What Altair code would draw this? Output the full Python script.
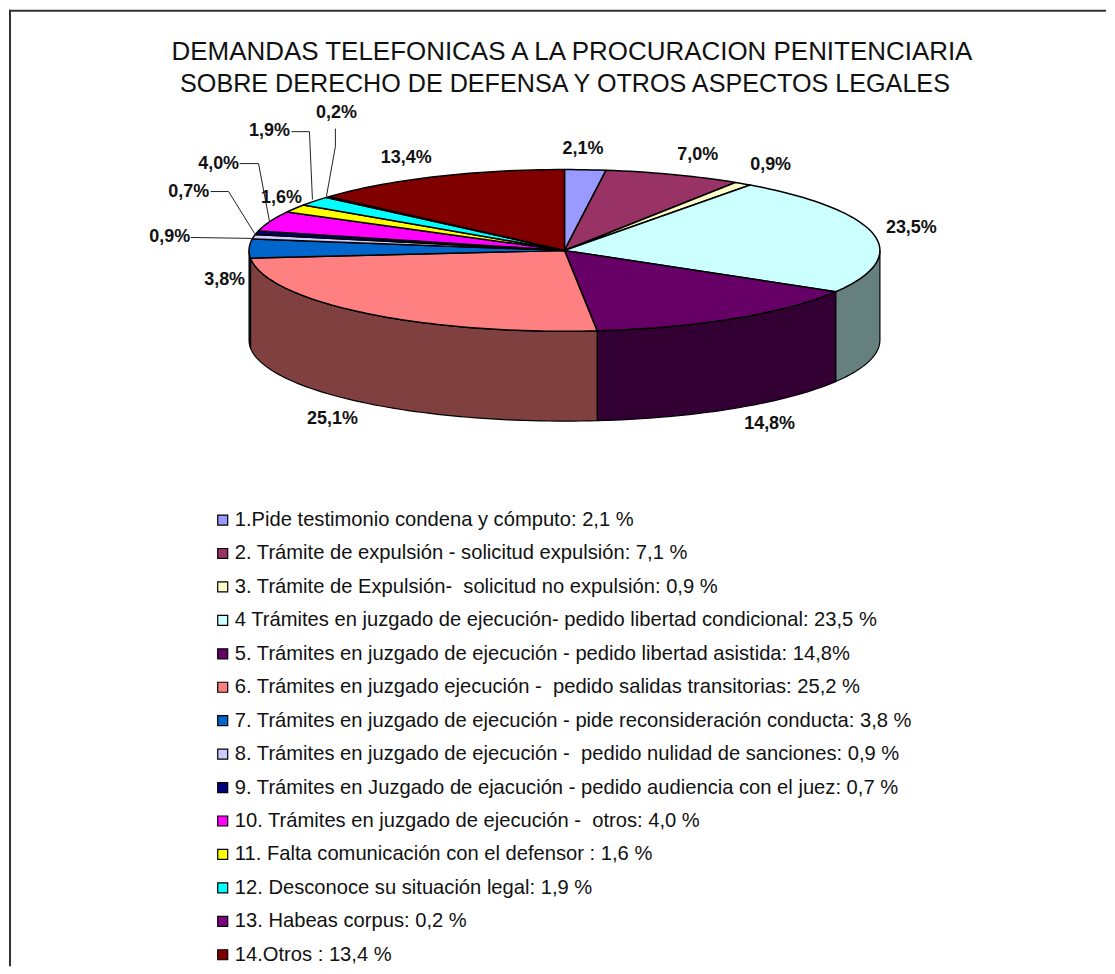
import math
import altair as alt
import pandas as pd

# ---- data ----
legend_labels = [
    "1.Pide testimonio condena y cómputo: 2,1 %",
    "2. Trámite de expulsión - solicitud expulsión: 7,1 %",
    "3. Trámite de Expulsión-\u00a0 solicitud no expulsión: 0,9 %",
    "4 Trámites en juzgado de ejecución- pedido libertad condicional: 23,5 %",
    "5. Trámites en juzgado de ejecución - pedido libertad asistida: 14,8%",
    "6. Trámites en juzgado ejecución -\u00a0 pedido salidas transitorias: 25,2 %",
    "7. Trámites en juzgado de ejecución - pide reconsideración conducta: 3,8 %",
    "8. Trámites en juzgado de ejecución -\u00a0 pedido nulidad de sanciones: 0,9 %",
    "9. Trámites en Juzgado de ejacución - pedido audiencia con el juez: 0,7 %",
    "10. Trámites en juzgado de ejecución -\u00a0 otros: 4,0 %",
    "11. Falta comunicación con el defensor : 1,6 %",
    "12. Desconoce su situación legal: 1,9 %",
    "13. Habeas corpus: 0,2 %",
    "14.Otros : 13,4 %",
]
values = [2.1, 7.0, 0.9, 23.5, 14.8, 25.1, 3.8, 0.9, 0.7, 4.0, 1.6, 1.9, 0.2, 13.4]
value_labels = ["2,1%", "7,0%", "0,9%", "23,5%", "14,8%", "25,1%", "3,8%", "0,9%",
                "0,7%", "4,0%", "1,6%", "1,9%", "0,2%", "13,4%"]
title_lines = ["DEMANDAS TELEFONICAS A LA PROCURACION PENITENCIARIA",
               "SOBRE DERECHO DE DEFENSA Y OTROS ASPECTOS LEGALES"]

# ---- styles ----
top_colors = ["#9999FF", "#993366", "#FFFFCC", "#CCFFFF", "#660066", "#FF8080", "#0066CC",
              "#CCCCFF", "#000080", "#FF00FF", "#FFFF00", "#00FFFF", "#800080", "#800000"]
wall_colors = ["#4D4D80", "#4D1A33", "#808066", "#668080", "#330033", "#804040", "#003366",
               "#666680", "#000040", "#800080", "#808000", "#008080", "#400040", "#400000"]

# ---- layout (page pixels) ----
CX, CY, RX, RY, DEPTH = 564.5, 249.0, 316.0, 81.0, 90.0
W, H = 1099, 958
label_x = [583, 698, 771, 912, 770, 332, 224, 169, 188, 218, 281, 269, 336, 406]
label_y = [147, 153, 163, 227, 423, 418, 279, 236, 190, 162, 196, 129, 111, 156]
title_x = [572, 565]
title_y = [50.5, 82.5]
title_size = [26, 25.2]
leaders = [
    [(190, 236), (254, 237)],
    [(210, 190), (228, 190), (254, 232)],
    [(239, 162), (258, 162), (269, 220)],
    [(291, 130), (309, 130), (312, 198)],
    [(335, 127), (335, 145), (326, 195)],
]


def ell(a, dy=0.0):
    r = math.radians(a)
    return CX + RX * math.sin(r), CY - RY * math.cos(r) + dy


def arc(a0, a1):
    n = max(2, int(abs(a1 - a0) / 1.5) + 2)
    return [a0 + (a1 - a0) * i / (n - 1) for i in range(n)]


total = sum(values)
tops, walls = [], []
cum = 0.0
for i, v in enumerate(values):
    a0 = cum / total * 360
    cum += v
    a1 = cum / total * 360
    pts = [(CX, CY)] + [ell(a) for a in arc(a0, a1)] + [(CX, CY)]
    tops += [{"name": legend_labels[i], "k": k, "x": p[0], "y": p[1]} for k, p in enumerate(pts)]
    lo, hi = max(a0, 90), min(a1, 270)
    if hi > lo:
        ang = arc(lo, hi)
        pts = [ell(a) for a in ang] + [ell(a, DEPTH) for a in reversed(ang)]
        pts.append(pts[0])
        walls += [{"wall": wall_colors[i], "k": k, "x": p[0], "y": p[1]}
                  for k, p in enumerate(pts)]

xs = alt.Scale(domain=[8, 8 + W], nice=False, zero=False)
ys = alt.Scale(domain=[8 + H, 8], nice=False, zero=False)
X = alt.X("x:Q", scale=xs, axis=None)
Y = alt.Y("y:Q", scale=ys, axis=None)

wall_layer = alt.Chart(pd.DataFrame(walls)).mark_line(
    filled=True, stroke="black", strokeWidth=1.2, strokeJoin="round"
).encode(x=X, y=Y, order="k:Q", fill=alt.Fill("wall:N", scale=None, legend=None))

top_layer = alt.Chart(pd.DataFrame(tops)).mark_line(
    filled=True, stroke="black", strokeWidth=1.5, strokeJoin="round"
).encode(
    x=X, y=Y, order="k:Q",
    color=alt.Color(
        "name:N",
        scale=alt.Scale(domain=legend_labels, range=top_colors),
        sort=None,
        legend=alt.Legend(
            orient="none", legendX=204, legendY=501, title=None, symbolType="square",
            symbolSize=100, symbolStrokeColor="black", symbolStrokeWidth=1.2, symbolOpacity=1,
            labelFont="Liberation Sans", labelFontSize=20.2, labelColor="#111111",
            labelLimit=1000, rowPadding=12.5, columns=1, labelOffset=2,
        ),
    ),
)

leader_rows = [{"g": g, "k": k, "x": p[0], "y": p[1]} for g, seg in enumerate(leaders) for k, p in enumerate(seg)]
leader_layer = alt.Chart(pd.DataFrame(leader_rows)).mark_line(color="#222222", strokeWidth=1).encode(
    x=X, y=Y, order="k:Q", detail="g:N")

label_layer = alt.Chart(pd.DataFrame({"x": label_x, "y": label_y, "t": value_labels})).mark_text(
    font="Liberation Sans", fontWeight="bold", fontSize=18, color="#111111", align="center", baseline="middle"
).encode(x=X, y=Y, text="t:N")

title_layer = alt.Chart(pd.DataFrame({"x": title_x, "y": title_y, "t": title_lines, "s": title_size})).mark_text(
    font="Liberation Sans", color="#111111", align="center", baseline="middle"
).encode(x=X, y=Y, text="t:N", size=alt.Size("s:Q", scale=None, legend=None))

frame_top = alt.Chart(pd.DataFrame({"y": [9]})).mark_rule(color="#333333", strokeWidth=2).encode(
    y=Y, x=alt.value(0), x2=alt.value(W))
frame_left = alt.Chart(pd.DataFrame({"x": [9]})).mark_rule(color="#333333", strokeWidth=2).encode(
    x=X, y=alt.value(0), y2=alt.value(H))

chart = alt.layer(
    frame_top, frame_left, wall_layer, top_layer, leader_layer, label_layer, title_layer
).properties(width=W, height=H, padding=0).resolve_scale(fill="independent", color="independent").configure_view(stroke=None)

chart.save("out.html", embed_options={"renderer": "svg", "actions": False})
